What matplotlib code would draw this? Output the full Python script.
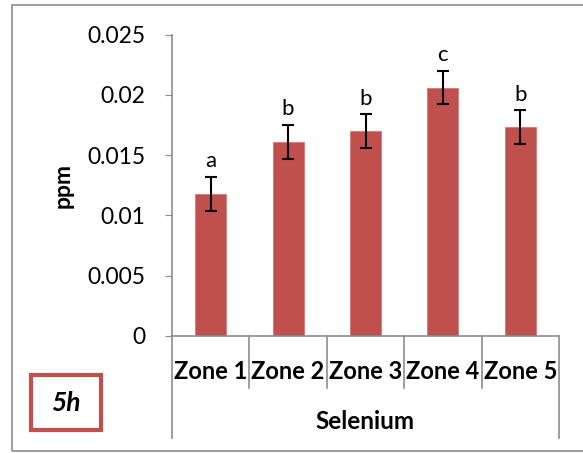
import matplotlib.pyplot as plt
from matplotlib.patches import Rectangle
from matplotlib.ticker import FixedLocator, FixedFormatter

plt.rcParams['font.family'] = ['Lato', 'DejaVu Sans']

zones = ["Zone 1", "Zone 2", "Zone 3", "Zone 4", "Zone 5"]
means = [0.0118, 0.0161, 0.0170, 0.0206, 0.0173]
errors = [0.0014, 0.0014, 0.0014, 0.0014, 0.0014]
letters = ["a", "b", "b", "c", "b"]
yticks = [0, 0.005, 0.01, 0.015, 0.02, 0.025]
ytick_labels = ["0", "0.005", "0.01", "0.015", "0.02", "0.025"]

W, H = 583, 453
fig = plt.figure(figsize=(W / 100, H / 100), dpi=100)

# outer chart border (right edge runs off the picture)
fig.patches.append(Rectangle((12 / W, 1 - 451 / H), 600 / W, 446 / H,
                             transform=fig.transFigure, fill=False,
                             edgecolor="#8c8c8c", linewidth=1.2))

ax = fig.add_axes([172 / W, 1 - 336 / H, (559 - 172) / W, (336 - 34.5) / H])
x = list(range(len(zones)))
ax.bar(x, means, width=0.4, color="#C0504D", edgecolor="#d07a78", linewidth=0.6,
       yerr=errors, capsize=4.5, error_kw=dict(ecolor="black", elinewidth=1.5, capthick=1.5))

for xi, m, e, l in zip(x, means, errors, letters):
    ax.annotate(l, (xi, m + e), xytext=(0, 4), textcoords="offset points",
                ha="center", va="bottom", fontsize=16)

ax.set_xlim(-0.5, 4.5)
ax.set_ylim(0, 0.025)
ax.yaxis.set_major_locator(FixedLocator(yticks))
ax.yaxis.set_major_formatter(FixedFormatter(ytick_labels))
ax.tick_params(axis="y", labelsize=16.5, length=5, color="#8c8c8c", pad=14)
ax.set_xticks([])
for s in ["top", "right"]:
    ax.spines[s].set_visible(False)
for s in ["left", "bottom"]:
    ax.spines[s].set_color("#8c8c8c")
    ax.spines[s].set_linewidth(1.2)

# category divider lines and labels below the axis
tr = ax.get_xaxis_transform()
for b in [0.5, 1.5, 2.5, 3.5]:
    ax.plot([b, b], [0, -0.1725], transform=tr, color="#8c8c8c", lw=1.2, clip_on=False)
for b in [-0.5, 4.5]:
    ax.plot([b, b], [0, -0.338], transform=tr, color="#8c8c8c", lw=1.2, clip_on=False)
for xi, z in zip(x, zones):
    ax.text(xi, -0.119, z, transform=tr, ha="center", va="center",
            fontsize=17, fontweight="bold")
ax.text(2, -0.285, "Selenium", transform=tr, ha="center", va="center",
        fontsize=17.5, fontweight="bold")

fig.text(63 / W, 1 - 185 / H, "ppm", rotation=90, ha="center", va="center",
         fontsize=16.5, fontweight="bold")

# panel tag box
fig.patches.append(Rectangle((31 / W, 1 - 430 / H), 70 / W, 55 / H,
                             transform=fig.transFigure, fill=False,
                             edgecolor="#C0504D", linewidth=3))
fig.text(66 / W, 1 - 403 / H, "5h", ha="center", va="center",
         fontsize=19, fontweight="bold", fontstyle="italic")

fig.savefig("out.png", dpi=100)
